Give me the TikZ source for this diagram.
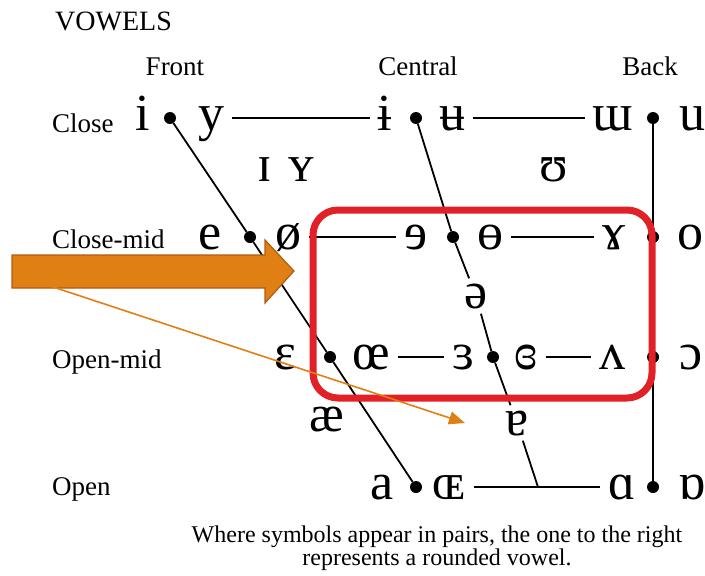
\documentclass[tikz,border=0pt]{standalone}
\usepackage{fontspec}
\setmainfont{Liberation Serif}
\usetikzlibrary{arrows.meta}
\definecolor{boxred}{RGB}{226,32,40}
\definecolor{arrowfill}{RGB}{224,128,20}
\definecolor{arrowedge}{RGB}{176,92,16}

\begin{document}
\begin{tikzpicture}[x=1pt,y=-1pt,
  vowel/.style={font=\fontsize{52}{52}\selectfont,text height=25pt,text depth=0pt,inner xsep=8pt,inner ysep=5pt},
  vdot/.style={circle,fill=black,inner sep=0pt,minimum size=12pt},
  rowlabel/.style={font=\fontsize{27}{27}\selectfont,anchor=base west,inner sep=0pt},
  colhead/.style={font=\fontsize{27}{27}\selectfont,anchor=base,inner sep=0pt},
  chart/.style={line width=1.8pt}]
% Frame
\useasboundingbox (0,0) rectangle (705,576);

% Headings
\node[rowlabel,font=\fontsize{28}{28}\selectfont] (title) at (55,30) {VOWELS};
\foreach \n/\x/\t in {front/175/Front,central/418/Central,back/650/Back}
  \node[colhead] (\n) at (\x,75) {\t};
\foreach \n/\y/\t in {close/132/Close,closemid/248/Close-mid,openmid/368/Open-mid,open/495/Open}
  \node[rowlabel] (\n) at (52,\y) {\t};

% Vowel symbols
\foreach \n/\x/\y/\s in {
  vi/143/118/i, vy/211/118/y, vibar/385/118/ɨ, vubar/452/118/ʉ, vturnm/613/118/ɯ, vu/692/118/u,
  vsmalli/265/169/ɪ, vsmally/301/169/ʏ, vupsilon/554/169/ʊ,
  ve/210/237/e, voslash/288/237/ø, vreve/416/237/ɘ, vbarredo/490/237/ɵ, vramshorn/614/237/ɤ, vo/690/237/o,
  vschwa/476/296/ə,
  veps/285/357/ɛ, voe/371/357/œ, vreveps/463/357/ɜ, vclosedreveps/526/357/ɞ, vturnv/612/357/ʌ, vopeno/691/357/ɔ,
  vae/327/419/æ, vturna/517/423/ɐ,
  va/382/487/a, vsmalloe/449/487/ɶ, valpha/622/487/ɑ, vturnalpha/692/487/ɒ}
  \node[vowel] (\n) at (\x,\y) {\s};

% Dots
\foreach \n/\x/\y in {di/170/118,dibar/416/118,dturnm/653/118,
  de/250/237,dreve/453/237,dramshorn/653/237,
  deps/330/357,dreveps/493/357,dturnv/653/357,
  da/416/487,dalpha/653/487}
  \node[vdot] (\n) at (\x,\y) {};
\coordinate (jopen) at (538,487);

% Chart lines
\draw[chart] (di) -- (de) -- (deps) -- (da);
\draw[chart] (dibar) -- (dreve) -- (vschwa);
\draw[chart] (vschwa) -- (dreveps) -- (vturna) -- (jopen);
\draw[chart] (dturnm) -- (dalpha);
\foreach \a/\b in {vy/vibar,vubar/vturnm,voslash/vreve,vbarredo/vramshorn,voe/vreveps,vclosedreveps/vturnv,vsmalloe/valpha}
  \draw[chart] (\a) -- (\b);

% Highlight box
\draw[boxred,line width=7pt,rounded corners=25pt] (313,210) rectangle (652,398);

% Block arrow
\filldraw[fill=arrowfill,draw=arrowedge,line width=1.2pt] (12,255) -- (265,255) -- (265,240) -- (294,271) -- (265,303) -- (265,288) -- (12,288) -- cycle;

% Pointer
\coordinate (tail) at (47,285);
\coordinate (tip) at (465,423);
\draw[-{Triangle[length=16pt,width=13pt]},arrowfill,line width=1.6pt] (tail) -- (tip);

% Caption
\node[font=\fontsize{24}{21}\selectfont,align=center] (note) at (437,548) {Where symbols appear in pairs, the one to the right\\represents a rounded vowel.};
\end{tikzpicture}
\end{document}
